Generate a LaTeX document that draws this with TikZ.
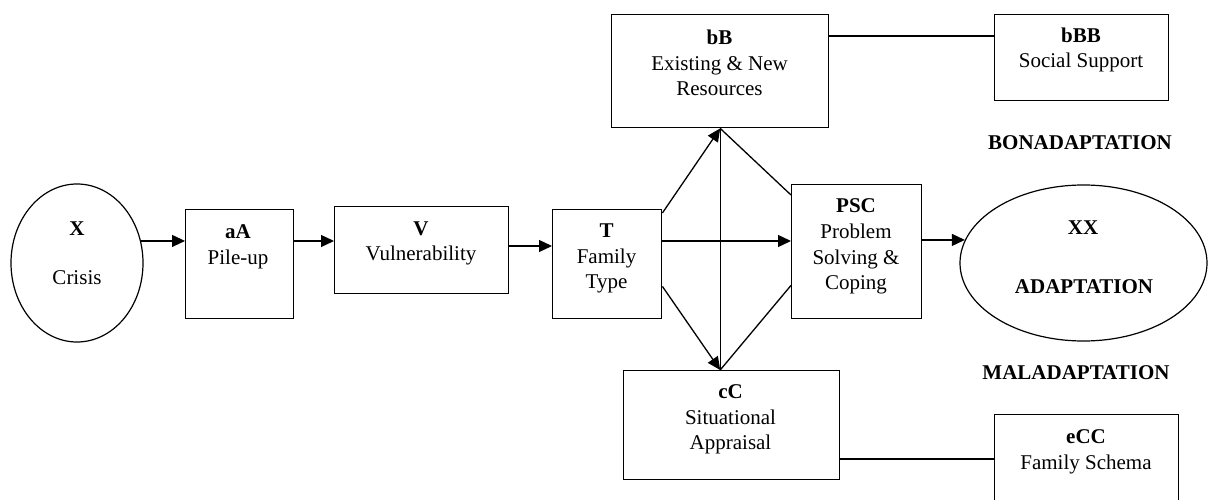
\documentclass[tikz,border=0pt]{standalone}
\usepackage{fontspec}
\setmainfont{Liberation Serif}
\usetikzlibrary{arrows.meta,shapes.geometric}
\begin{document}
\begin{tikzpicture}[x=1pt,y=-1pt,
 box/.style={draw,line width=1.4pt,rectangle,inner sep=0pt,anchor=north west},
 oval/.style={draw,line width=1.2pt,ellipse,inner sep=0pt},
 txt/.style={align=center,inner sep=0pt,font=\fontsize{21}{25.7}\selectfont},
 arr/.style={line width=1.3pt,-{Triangle[length=13pt,width=12pt]}},
 ln/.style={line width=1.3pt}]
\useasboundingbox (0,0) rectangle (1208,500);
% rows
\coordinate (r0) at (0,36);
\coordinate (r1) at (0,241);
\coordinate (r2) at (0,246);
\coordinate (r3) at (0,459);
% shapes
\node[oval,minimum width=132pt,minimum height=158pt] (crisis) at (77,263) {};
\node[box,minimum width=108pt,minimum height=109pt] (aA) at (185,209) {};
\node[box,minimum width=174pt,minimum height=87pt] (V) at (334,206) {};
\node[box,minimum width=109pt,minimum height=109pt] (T) at (552,209) {};
\node[box,minimum width=130pt,minimum height=134pt] (PSC) at (791,184) {};
\node[box,minimum width=217pt,minimum height=113pt] (bB) at (611,14) {};
\node[box,minimum width=174pt,minimum height=86pt] (bBB) at (994,14) {};
\node[box,minimum width=216pt,minimum height=109pt] (cC) at (623,370) {};
\node[box,minimum width=184pt,minimum height=92pt] (eCC) at (994,414) {};
\node[oval,minimum width=247pt,minimum height=156pt] (xx) at (1083.5,263) {};
% texts
\node[txt] (tX) at (77,229) {\textbf{X}};
\node[txt] (tCrisis) at (77,278) {Crisis};
\node[txt] (taA) at (238,246.5) {\textbf{aA}\\Pile-up};
\node[txt] (tV) at (421,243.5) {\textbf{V}\\Vulnerability};
\node[txt] (tT) at (606.5,258.5) {\textbf{T}\\Family\\Type};
\node[txt] (tPSC) at (856,246.5) {\textbf{PSC}\\Problem\\Solving \&\\Coping};
\node[txt] (tbB) at (719.5,63) {\textbf{bB}\\Existing \& New\\Resources};
\node[txt] (tbBB) at (1081,50) {\textbf{bBB}\\Social Support};
\node[txt] (tcC) at (730.5,419.5) {\textbf{cC}\\Situational\\Appraisal};
\node[txt] (teCC) at (1086,451.5) {\textbf{eCC}\\Family Schema};
\node[txt] (tBon) at (1080,143) {\textbf{BONADAPTATION}};
\node[txt] (tMal) at (1076,373) {\textbf{MALADAPTATION}};
\node[txt] (tXX) at (1083,228) {\textbf{XX}};
\node[txt] (tAd) at (1084,287) {\textbf{ADAPTATION}};
% connectors
\draw[arr] (crisis.19) -- (crisis.19 -| aA.west);
\draw[arr] (aA.east |- r1) -- (V.west |- r1);
\draw[arr] (V.east |- r2) -- (T.west |- r2);
\draw[arr] (T.east |- r1) -- (PSC.west |- r1);
\draw[arr] (PSC.east |- xx.169.5) -- (xx.169.5);
\coordinate (cCtop) at (bB.south |- cC.north);
\draw[arr] ([yshift=-4pt]T.north east) -- (bB.south);
\draw[arr] ([yshift=33pt]T.south east) -- (cCtop);
\draw[ln] (bB.south) -- (cCtop);
\draw[ln] (bB.south) -- ([yshift=-11pt]PSC.north west);
\draw[ln] (cCtop) -- ([yshift=34pt]PSC.south west);
\draw[ln] (bB.east |- r0) -- (bBB.west |- r0);
\draw[ln] (cC.east |- r3) -- (eCC.west |- r3);
\end{tikzpicture}
\end{document}
